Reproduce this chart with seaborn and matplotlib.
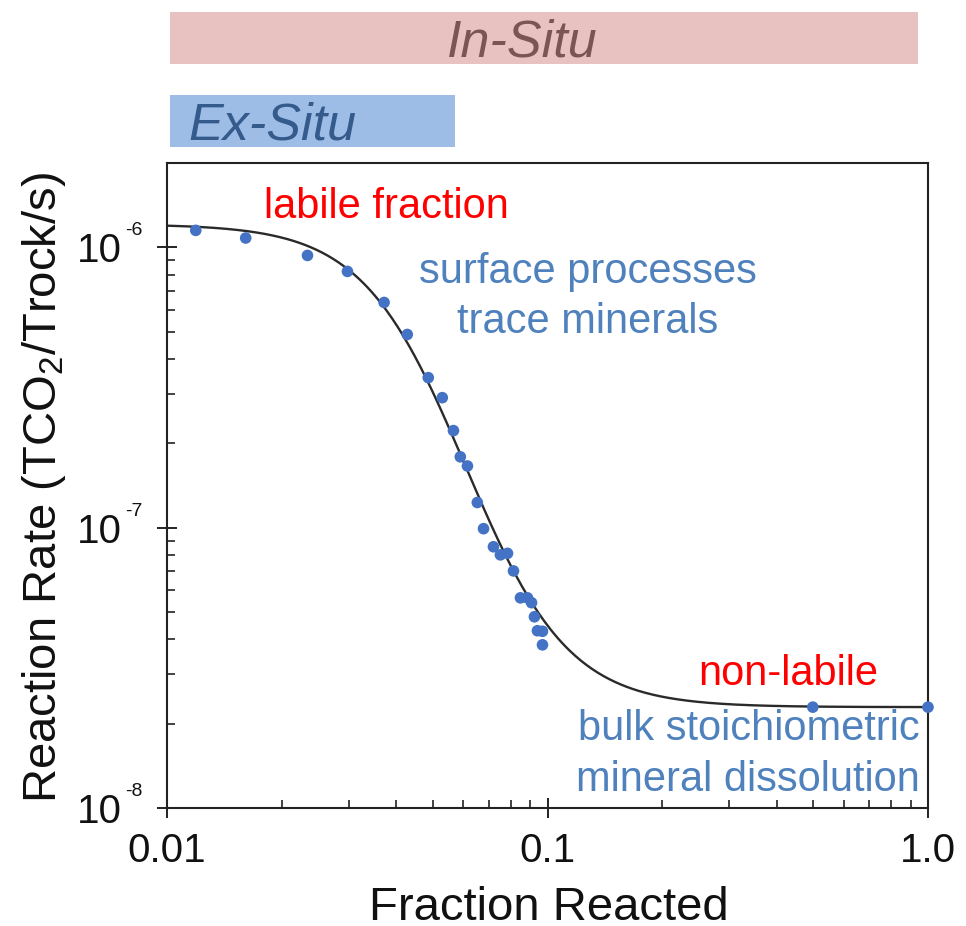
import matplotlib
matplotlib.use("Agg")
import matplotlib.pyplot as plt
import matplotlib.transforms as mtransforms
import numpy as np
import pandas as pd
import seaborn as sns
from matplotlib.ticker import LogLocator, NullFormatter

# Measured dissolution rates versus fraction of rock reacted
fraction_reacted = [0.0119, 0.0161, 0.0234, 0.0298, 0.0372, 0.0428, 0.0486,
                    0.0529, 0.0566, 0.0590, 0.0616, 0.0654, 0.0679, 0.0721,
                    0.0752, 0.0785, 0.0814, 0.0849, 0.0886, 0.0908, 0.0924,
                    0.0941, 0.0970, 0.0970, 0.498, 1.0]
reaction_rate = [1.15e-6, 1.08e-6, 9.36e-7, 8.21e-7, 6.36e-7, 4.89e-7, 3.43e-7,
                 2.91e-7, 2.22e-7, 1.79e-7, 1.66e-7, 1.23e-7, 9.92e-8, 8.55e-8,
                 8.00e-8, 8.10e-8, 7.01e-8, 5.62e-8, 5.62e-8, 5.40e-8, 4.81e-8,
                 4.29e-8, 4.27e-8, 3.82e-8, 2.29e-8, 2.29e-8]

# Fitted sigmoid (in log-log space) between labile and bulk rates
rate_labile = 1.21e-6
rate_bulk = 2.29e-8
x_half = 0.0608
hill_n = 3.2

# Carbonation approach ranges (fraction reacted)
approach_names = ["In-Situ", "Ex-Situ"]
approach_start = [0.01018, 0.01018]
approach_end = [0.941, 0.0571]
approach_fill = ["#E8C1C1", "#9DBDE7"]
approach_text = ["#7D5454", "#345B8B"]

x_ticks = [0.01, 0.1, 1.0]
x_tick_labels = ["0.01", "0.1", "1.0"]
y_ticks = [1e-8, 1e-7, 1e-6]
y_tick_exponents = ["-8", "-7", "-6"]

sns.set_theme(style="white")
plt.rcParams["font.family"] = ["Liberation Sans", "DejaVu Sans"]
plt.rcParams["mathtext.fontset"] = "custom"
plt.rcParams["mathtext.rm"] = "Liberation Sans"
plt.rcParams["mathtext.it"] = "Liberation Sans:italic"
plt.rcParams["mathtext.bf"] = "Liberation Sans:bold"
plt.rcParams["xtick.direction"] = "in"
plt.rcParams["ytick.direction"] = "in"

W, H = 966, 926
fig = plt.figure(figsize=(W / 100, H / 100), dpi=100)
ax_l, ax_r, ax_t, ax_b = 167, 928, 163, 808
ax = fig.add_axes([ax_l / W, (H - ax_b) / H, (ax_r - ax_l) / W, (ax_b - ax_t) / H])
ax.set_xscale("log")
ax.set_yscale("log")

points = pd.DataFrame({"fraction": fraction_reacted, "rate": reaction_rate})

xs = np.logspace(-2, 0, 400)
log_lo, log_hi = np.log10(rate_bulk), np.log10(rate_labile)
fit = pd.DataFrame({
    "fraction": xs,
    "rate": 10 ** (log_lo + (log_hi - log_lo) / (1 + (xs / x_half) ** hill_n)),
})

sns.lineplot(data=fit, x="fraction", y="rate", ax=ax, color="#2a2a2a",
             linewidth=1.7, zorder=2)
sns.scatterplot(data=points, x="fraction", y="rate", ax=ax, color="#4472C4",
                s=70, edgecolor="none", zorder=3, clip_on=False)

ax.set_xlim(0.01, 1.0)
ax.set_ylim(1e-8, 2.0e-6)

ax.set_xticks(x_ticks, x_tick_labels)
ax.set_yticks(y_ticks, [""] * len(y_ticks))
ax.xaxis.set_minor_locator(LogLocator(base=10, subs=np.arange(2, 10)))
ax.yaxis.set_minor_locator(LogLocator(base=10, subs=np.arange(2, 10)))
ax.xaxis.set_minor_formatter(NullFormatter())
ax.yaxis.set_minor_formatter(NullFormatter())

ax.tick_params(which="major", direction="inout", length=15, width=1.4,
               color="#222222", labelsize=29, labelcolor="#111111")
ax.tick_params(axis="x", which="major", pad=10)
ax.tick_params(which="minor", direction="in", length=5.5, width=1.2,
               color="#222222")
ax.tick_params(which="both", bottom=True, left=True, top=False, right=False)

# Power-of-ten labels with a small raised exponent
ylab_trans = mtransforms.blended_transform_factory(ax.transAxes, ax.transData)
for val, exp in zip(y_ticks, y_tick_exponents):
    base_t = mtransforms.offset_copy(ylab_trans, fig=fig, x=0, y=-15 * 0.72,
                                     units="points")
    sup_t = mtransforms.offset_copy(ylab_trans, fig=fig, x=0, y=12 * 0.72,
                                    units="points")
    ax.text(-0.0595, val, "10", transform=base_t, ha="right", va="baseline",
            fontsize=29, color="#111111")
    ax.text(-0.0555, val, exp, transform=sup_t, ha="left", va="baseline",
            fontsize=14, color="#111111")

for sp in ax.spines.values():
    sp.set_visible(True)
    sp.set_linewidth(1.5)
    sp.set_color("#222222")

ax.set_xlabel("Fraction Reacted", fontsize=34, color="#111111", va="baseline")
ax.xaxis.set_label_coords(0.502, -0.1735)
ax.set_ylabel("Reaction Rate (TCO$_2$/Trock/s)", fontsize=34, color="#111111",
              va="center")
ax.yaxis.set_label_coords(-0.161, 0.497)

# Annotations
red = "#FF0000"
blue = "#4F81BD"
ax.text(0.289, 0.9147, "labile fraction", color=red, fontsize=30,
        ha="center", va="baseline", transform=ax.transAxes)
for y, line in zip([0.814, 0.7364], ["surface processes", "trace minerals"]):
    ax.text(0.5526, y, line, color=blue, fontsize=30,
            ha="center", va="baseline", transform=ax.transAxes)
ax.text(0.817, 0.1907, "non-labile", color=red, fontsize=30,
        ha="center", va="baseline", transform=ax.transAxes)
for y, line in zip([0.1054, 0.0264], ["bulk stoichiometric", "mineral dissolution"]):
    ax.text(0.9895, y, line, color=blue, fontsize=30,
            ha="right", va="baseline", transform=ax.transAxes)

# Range bars for the two carbonation approaches, on the same fraction scale
top_px, bot_px = 12, 147
ax_bar = fig.add_axes([ax_l / W, (H - bot_px) / H, (ax_r - ax_l) / W,
                       (bot_px - top_px) / H], sharex=ax)
rows = np.arange(len(approach_names))
widths = [e - s for s, e in zip(approach_start, approach_end)]
ax_bar.barh(rows, widths, left=approach_start, height=0.636,
            color=approach_fill, edgecolor="none")
ax_bar.set_ylim(1.318, -0.318)
ax_bar.axis("off")
bar_trans = mtransforms.blended_transform_factory(ax_bar.transAxes, ax_bar.transData)
text_x = [0.4665, 0.028]
text_ha = ["center", "left"]
for r, name in enumerate(approach_names):
    ax_bar.text(text_x[r], r + 0.225, name, transform=bar_trans,
                ha=text_ha[r], va="baseline", fontsize=37.5, style="italic",
                color=approach_text[r])

fig.savefig("out.png", dpi=100, facecolor="white")
